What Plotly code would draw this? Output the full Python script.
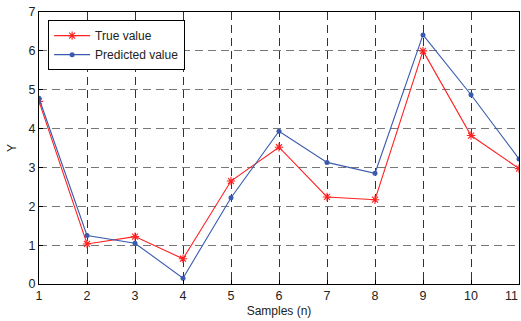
import plotly.graph_objects as go

samples = [1, 2, 3, 4, 5, 6, 7, 8, 9, 10, 11]
true_value = [4.70, 1.03, 1.22, 0.65, 2.65, 3.52, 2.24, 2.17, 6.00, 3.82, 2.97]
predicted_value = [4.78, 1.25, 1.05, 0.15, 2.22, 3.93, 3.13, 2.85, 6.41, 4.87, 3.22]
x_ticks = [1, 2, 3, 4, 5, 6, 7, 8, 9, 10, 11]

FONT = "Liberation Sans, Arial"

fig = go.Figure()
fig.add_trace(go.Scatter(
    x=samples, y=true_value, mode="lines+markers", name="True value",
    line=dict(color="#ff2020", width=1.1),
    marker=dict(symbol="asterisk-open", size=7, color="#ff2020",
                line=dict(color="#ff2020", width=1.1)),
))
fig.add_trace(go.Scatter(
    x=samples, y=predicted_value, mode="lines+markers", name="Predicted value",
    line=dict(color="#3a5aae", width=1.1),
    marker=dict(symbol="circle", size=5, color="#3a5aae"),
))

axis_common = dict(
    showline=True, linecolor="black", linewidth=1.3, mirror=True,
    showgrid=True, gridwidth=1, griddash="8px,5px",
    ticks="inside", ticklen=4, tickcolor="black",
    zeroline=False,
    tickfont=dict(family=FONT, size=12.5, color="#222"),
)

fig.update_xaxes(range=[1, 11], tickvals=x_ticks[:-1], gridcolor="#333333",
                 title=dict(text="Samples (n)", standoff=4,
                            font=dict(family=FONT, size=12, color="#222")),
                 **axis_common)
fig.update_yaxes(range=[0, 7], dtick=1, gridcolor="#777777",
                 title=dict(text="Y", standoff=9,
                            font=dict(family=FONT, size=12, color="#222")),
                 **axis_common)

# last x tick label, kept inside the figure edge
fig.add_annotation(x=x_ticks[-1], y=0, xref="x", yref="paper", text=str(x_ticks[-1]),
                   showarrow=False, yanchor="top", xanchor="right", yshift=-3, xshift=1,
                   font=dict(family=FONT, size=12.5, color="#222"))

fig.update_layout(
    width=521, height=321,
    margin=dict(l=39, r=2, t=12, b=37),
    paper_bgcolor="white", plot_bgcolor="white",
    showlegend=True,
    legend=dict(x=0.019, y=0.97, xanchor="left", yanchor="top",
                bgcolor="white", bordercolor="black", borderwidth=1,
                font=dict(family=FONT, size=12, color="#222"),
                itemwidth=36, tracegroupgap=0),
)

fig.write_html("out.html")
